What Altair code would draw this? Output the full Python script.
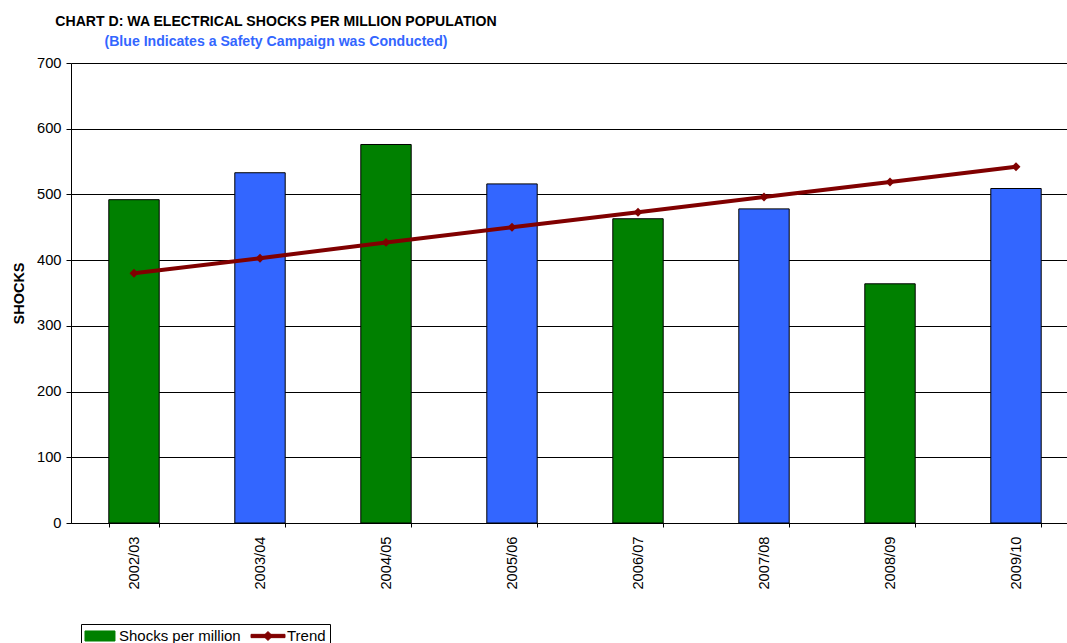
import altair as alt
import pandas as pd

# Financial years and the shocks recorded per million population
periods = ["2002/03", "2003/04", "2004/05", "2005/06", "2006/07", "2007/08", "2008/09", "2009/10"]
shocks = [492, 533, 576, 516, 463, 478, 364, 509]
# Years in which a safety campaign was conducted (drawn in blue)
campaign = ["No", "Yes", "No", "Yes", "No", "Yes", "No", "Yes"]
# Trend line values
trend = [380, 403, 427, 450, 473, 496, 519, 542]

FONT = "Liberation Sans"
GREEN = "#008000"
BLUE = "#3366ff"
TREND = "#800000"

bars_df = pd.DataFrame({"period": periods, "shocks": shocks, "campaign": campaign})
trend_df = pd.DataFrame({"period": periods, "trend": trend, "series": ["Trend"] * len(periods)})

x_scale = alt.Scale(domain=periods, range=[0, 1008], paddingInner=0.6, paddingOuter=0.3)
x_axis = alt.Axis(
    title=None, labelAngle=-90, labelFont=FONT, labelFontSize=14.7, labelColor="black",
    tickBand="extent", tickSize=4, tickColor="black", labelPadding=9,
    domainColor="black", grid=False,
)
y_scale = alt.Scale(domain=[0, 700], nice=False)
y_axis = alt.Axis(
    title="SHOCKS", values=list(range(0, 701, 100)), titleFont=FONT, titleFontSize=14.5,
    titleFontWeight="bold", titleColor="black", titleX=-48, titleY=230,
    titleAngle=-90, titleAlign="center", titleBaseline="alphabetic",
    labelFont=FONT, labelFontSize=14.7, labelColor="black", labelPadding=5,
    tickSize=5, tickColor="black", domainColor="black", gridColor="black", gridOpacity=1,
)

bars = alt.Chart(bars_df).mark_bar(stroke="black", strokeWidth=1).encode(
    x=alt.X("period:N", scale=x_scale, axis=x_axis, sort=periods),
    y=alt.Y("shocks:Q", scale=y_scale, axis=y_axis),
    fill=alt.Fill("campaign:N", scale=alt.Scale(domain=["No", "Yes"], range=[GREEN, BLUE]), legend=None),
)

legend = alt.Legend(
    title=None, orient="none", legendX=10, legendY=561, direction="horizontal",
    strokeColor="black", padding=4, labelFont=FONT, labelFontSize=15, labelColor="black",
    symbolSize=225, labelOffset=18, columnPadding=8,
)

line = alt.Chart(trend_df).mark_line(
    strokeWidth=4,
    point=alt.OverlayMarkDef(shape="diamond", size=80, filled=True, color=TREND),
).encode(
    x=alt.X("period:N", scale=x_scale, sort=periods),
    y=alt.Y("trend:Q", scale=y_scale),
    color=alt.Color("series:N", scale=alt.Scale(domain=["Shocks per million", "Trend"], range=[GREEN, TREND]), legend=legend),
)

chart = alt.layer(bars, line).properties(
    width=996,
    height=460,
    title=alt.TitleParams(
        text="CHART D: WA ELECTRICAL SHOCKS PER MILLION POPULATION",
        subtitle="(Blue Indicates a Safety Campaign was Conducted)",
        font=FONT, fontSize=14.1, fontWeight="bold", color="black",
        subtitleFont=FONT, subtitleFontSize=14.1, subtitleFontWeight="bold", subtitleColor=BLUE,
        subtitlePadding=6, anchor="middle", frame="group", dx=-293, offset=6,
    ),
    autosize=alt.AutoSizeParams(type="none"),
    padding={"left": 71, "top": 63, "right": 0, "bottom": 120},
).configure_view(stroke=None).configure(background="white")

# Legend symbols: a bordered bar swatch for the shocks, a line with a diamond for the trend.
# The row keeps a 16px slot; the swatches reach past it to the right.
is_trend = "datum.value === 'Trend'"
rect_path = "M-1.07,-0.67L2.93,-0.67L2.93,0.67L-1.07,0.67Z"
trend_path = "M-1.33,-0.22L3.2,-0.22L3.2,0.22L-1.33,0.22Z M0.93,-0.6L1.53,0L0.93,0.6L0.33,0Z"
symbol_encoding = {"symbols": {"update": {
    "shape": {"signal": f"{is_trend} ? '{trend_path}' : '{rect_path}'"},
    "size": {"value": 225},
    "fill": {"signal": f"{is_trend} ? '{TREND}' : '{GREEN}'"},
    "stroke": {"signal": f"{is_trend} ? 'transparent' : 'black'"},
    "strokeWidth": {"value": 1},
    "opacity": {"value": 1},
    "fillOpacity": {"value": 1},
    "strokeOpacity": {"value": 1},
}}}


def with_symbol_encoding(to_dict):
    # Vega-Lite accepts legend "encode" but its JSON schema hides it,
    # so it is added after the spec has been validated.
    def wrapped(*args, **kwargs):
        spec = to_dict(*args, **kwargs)
        spec["layer"][1]["encoding"]["color"]["legend"]["encode"] = symbol_encoding
        return spec
    return wrapped


object.__setattr__(chart, "to_dict", with_symbol_encoding(chart.to_dict))

chart.save("out.html", embed_options={"renderer": "svg", "actions": False})
